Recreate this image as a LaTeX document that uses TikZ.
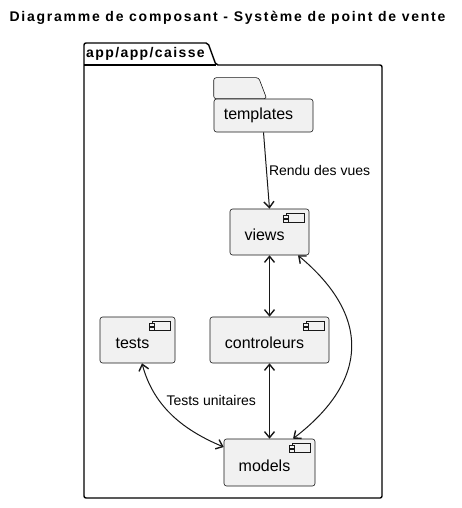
\documentclass[tikz,border=0pt]{standalone}
\usepackage{fontspec}
\setmainfont{Liberation Sans}
\newfontfamily\spacedfont[LetterSpace=10]{Liberation Sans}
\newfontfamily\titlefont[LetterSpace=12.5]{Liberation Sans}
\usetikzlibrary{positioning}
\usetikzlibrary{arrows.meta}
\definecolor{compfill}{HTML}{F1F1F1}
\definecolor{compline}{HTML}{181818}

\tikzset{
  comp/.style={draw=compline, fill=compfill, rounded corners=2.5pt, line width=0.6pt,
    minimum height=46pt, text height=17pt, text depth=0pt,
    font=\fontsize{16}{19}\selectfont, execute at end node={\hspace*{10pt}}},
  folder/.style={draw=compline, fill=compfill, rounded corners=2.5pt, line width=0.6pt,
    minimum height=33pt, font=\fontsize{16}{19}\selectfont, execute at end node={\hspace*{10pt}}},
  tip/.tip={Straight Barb[length=6pt,width=10pt,line width=1.4pt]},
  link/.style={draw=compline, line width=1pt, -tip},
  both/.style={link, tip-tip},
  linklabel/.style={font=\fontsize{14}{17}\selectfont, inner sep=1pt}
}

\newcommand{\compicon}[1]{%
  \draw[compline, fill=compfill, line width=0.6pt] ([xshift=-23pt,yshift=-5pt]#1.north east) rectangle ++(18pt,-9pt);
  \draw[compline, fill=compfill, line width=0.6pt] ([xshift=-26pt,yshift=-7pt]#1.north east) rectangle ++(5pt,-2.5pt);
  \draw[compline, fill=compfill, line width=0.6pt] ([xshift=-26pt,yshift=-11pt]#1.north east) rectangle ++(5pt,-2.5pt);
}

\begin{document}
\begin{tikzpicture}[x=1pt,y=-1pt]

  \useasboundingbox (0,0) rectangle (462,508);

  \node[font=\titlefont\bfseries\fontsize{14}{17}\selectfont] (title) at (227.5,18)
    {Diagramme de composant - Système de point de vente};

  % package
  \draw[line width=1.4pt, rounded corners=2pt] (84,498) -- (84,43) -- (208,43) -- (216,65)
    -- (382,65) -- (382,498) -- cycle;
  \draw[line width=1.4pt] (84,65) -- (216,65);
  \node[font=\spacedfont\bfseries\fontsize{14}{17}\selectfont, anchor=west, inner sep=0pt]
    (pkg) at (86,54) {app/app/caisse};

  % components
  \node[folder, minimum width=99pt] (templates) at (263.5,115.5) {templates};
  \draw[folder] (templates.north west) -- ++(0,-21) -- ++(45,0) -- ++(8,21) -- cycle;

  \node[comp, minimum width=79pt] (views) at (269.5,232) {views};
  \node[comp, minimum width=75pt] (tests) at (137.5,340) {tests};
  \node[comp, minimum width=119pt] (controleurs) at (269.5,340) {controleurs};
  \node[comp, minimum width=91pt, minimum height=47pt] (models) at (269.5,462.5) {models};

  \compicon{views}
  \compicon{tests}
  \compicon{controleurs}
  \compicon{models}

  % links
  \draw[link] (templates.south) -- node[linklabel, right=1pt] {Rendu des vues} (views.north);
  \draw[both] (views.south) -- (controleurs.north);
  \draw[both] (controleurs.south) -- (models.north);
  \draw[both] ([xshift=4.5pt]tests.south) .. controls +(12,45) and +(-38,-16)
    .. node[linklabel, pos=0.4, anchor=south west] {Tests unitaires} ([yshift=15.5pt]models.west);
  \draw[both] ([xshift=28.5pt]views.south) .. controls +(72,60) and +(77,-59)
    .. ([xshift=23.5pt]models.north);

\end{tikzpicture}
\end{document}
